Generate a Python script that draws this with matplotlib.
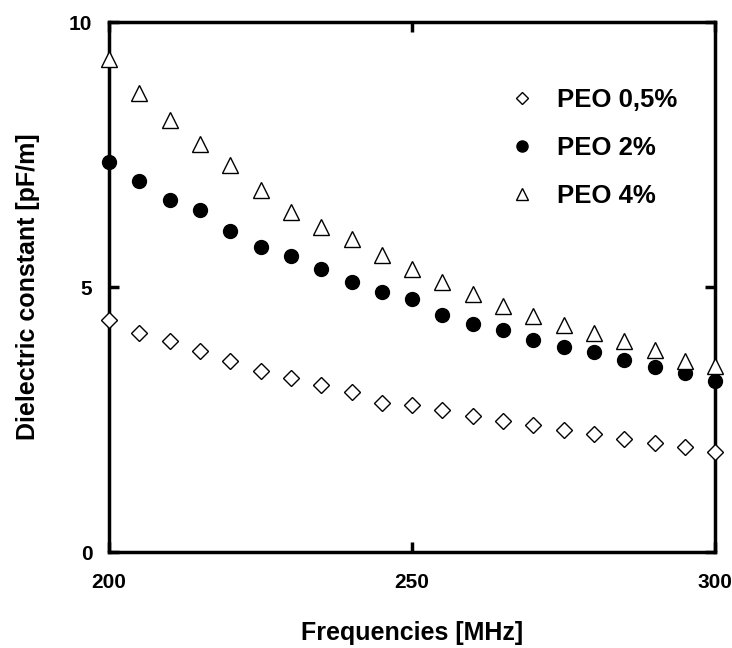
import matplotlib
matplotlib.use("Agg")
import matplotlib.pyplot as plt

plt.rcParams["font.family"] = ["Liberation Sans", "DejaVu Sans"]
plt.rcParams["font.weight"] = "bold"

freq = [200, 205, 210, 215, 220, 225, 230, 235, 240, 245, 250,
        255, 260, 265, 270, 275, 280, 285, 290, 295, 300]
peo_05 = [4.38, 4.14, 3.98, 3.79, 3.61, 3.42, 3.29, 3.16, 3.02, 2.81, 2.77,
          2.68, 2.57, 2.48, 2.40, 2.30, 2.23, 2.13, 2.05, 1.99, 1.89]
peo_2 = [7.36, 7.01, 6.64, 6.45, 6.06, 5.76, 5.59, 5.35, 5.10, 4.91, 4.77,
         4.47, 4.31, 4.19, 4.01, 3.86, 3.77, 3.62, 3.50, 3.37, 3.23]
peo_4 = [9.30, 8.67, 8.16, 7.70, 7.30, 6.84, 6.42, 6.14, 5.90, 5.60, 5.34,
         5.10, 4.87, 4.64, 4.45, 4.28, 4.14, 3.99, 3.81, 3.60, 3.51]
labels = ["PEO 0,5%", "PEO 2%", "PEO 4%"]

fig = plt.figure(figsize=(7.32, 6.48), dpi=100)
ax = fig.add_axes([0.149, 0.148, 0.828, 0.818])

ax.plot(freq, peo_05, ls="none", marker="D", ms=8, mfc="white", mec="black",
        mew=1.0, label=labels[0], clip_on=False, zorder=3)
ax.plot(freq, peo_2, ls="none", marker="o", ms=10, mfc="black", mec="black",
        label=labels[1], clip_on=False, zorder=3)
ax.plot(freq, peo_4, ls="none", marker="^", ms=11.5, mfc="white", mec="black",
        mew=1.0, label=labels[2], clip_on=False, zorder=3)

ax.set_xlim(200, 300)
ax.set_ylim(0, 10)
ax.set_xticks([200, 250, 300])
ax.set_yticks([0, 5, 10])
for s in ax.spines.values():
    s.set_linewidth(2.5)
ax.tick_params(direction="in", length=7, width=2.5, top=True, right=True,
               labelsize=15)
ax.tick_params(axis="x", pad=15)
ax.tick_params(axis="y", pad=12)

ax.set_xlabel("Frequencies [MHz]", fontsize=18, fontweight="bold", va="center")
ax.set_ylabel("Dielectric constant [pF/m]", fontsize=18, fontweight="bold",
              va="center")
ax.xaxis.set_label_coords(0.5, -0.153)
ax.yaxis.set_label_coords(-0.133, 0.5)

ax.legend(loc="upper left", bbox_to_anchor=(0.618, 0.92), frameon=False,
          prop={"size": 18.5, "weight": "bold"}, handletextpad=0.77,
          labelspacing=0.95, handlelength=1.2, markerscale=0.8)

fig.savefig("out.png", dpi=100)
